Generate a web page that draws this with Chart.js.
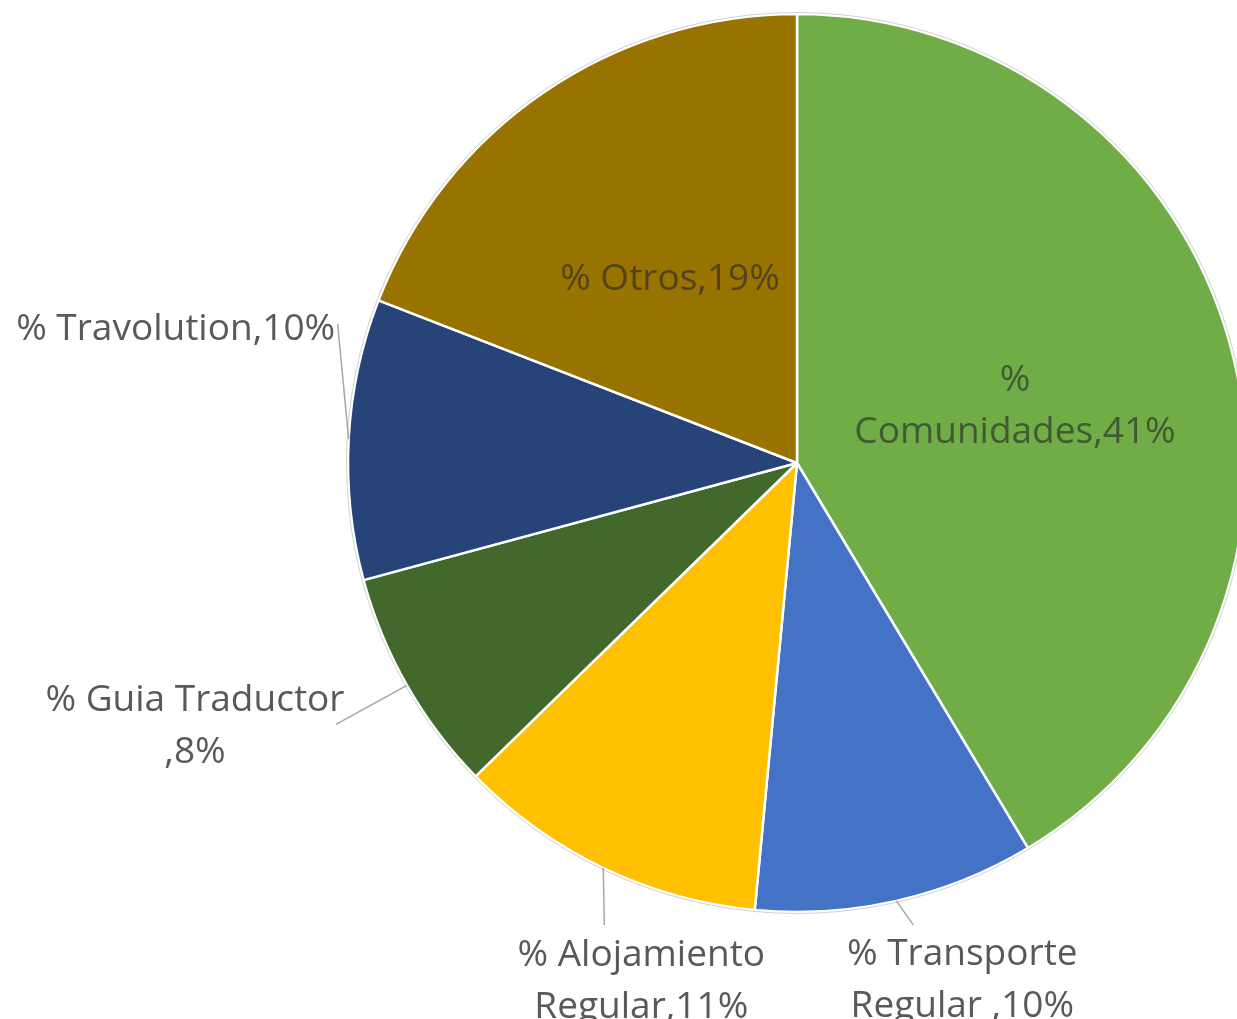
<!DOCTYPE html>
<html>
<head>
<meta charset="utf-8">
<script src="https://cdn.jsdelivr.net/npm/chart.js@4.4.1/dist/chart.umd.min.js"></script>
<style>
  html, body { margin: 0; padding: 0; background: #fff; overflow: hidden; }
  #wrap { width: 1260px; height: 1040px; }
</style>
</head>
<body>
<div id="wrap"><canvas id="pieChart" width="1260" height="1040"></canvas></div>
<script>
// ---------------- data
const categories = ['%\nComunidades', '% Transporte\nRegular ', '% Alojamiento\nRegular', '% Guia Traductor\n', '% Travolution', '% Otros'];
const shares = [41.4, 10.1, 11.2, 8.1, 10.1, 19.1];
const sliceColors = ['#70AD47', '#4472C4', '#FFC000', '#43682B', '#264478', '#997300'];

// where each label sits: inside ones relative to pie centre, outside ones relative to the slice edge
const placement = [
  { inside: true, dx: 218, dy: -83 },
  { line: [17, 24], dx: 66, dy: 54 },
  { line: [1, 57], dx: 38, dy: 87 },
  { line: [-71, 39], dx: -212, dy: 15 },
  { line: [-11, -115], dx: -173, dy: -133 + 23 },
  { inside: true, dx: -127, dy: -184 }
];

const labelFont = '37px "Open Sans"';
const lineHeight = 52;

const pieLabels = {
  id: 'pieLabels',
  afterDatasetsDraw(chart) {
    const ctx = chart.ctx;
    const meta = chart.getDatasetMeta(0);
    ctx.save();
    // faint outer rim
    const a0 = meta.data[0].getProps(['x', 'y', 'outerRadius'], true);
    ctx.beginPath();
    ctx.arc(a0.x, a0.y, a0.outerRadius + 1.5, 0, Math.PI * 2);
    ctx.strokeStyle = 'rgba(0,0,0,0.18)';
    ctx.lineWidth = 1;
    ctx.stroke();

    ctx.font = labelFont;
    ctx.textAlign = 'center';
    ctx.textBaseline = 'middle';
    meta.data.forEach((arc, i) => {
      const p = arc.getProps(['x', 'y', 'startAngle', 'endAngle', 'outerRadius'], true);
      const mid = (p.startAngle + p.endAngle) / 2;
      const ex = p.x + p.outerRadius * Math.cos(mid);
      const ey = p.y + p.outerRadius * Math.sin(mid);
      const pl = placement[i];
      const text = categories[i] + ',' + Math.round(shares[i]) + '%';
      const lines = text.split('\n');
      let bx, by;
      if (pl.inside) {
        bx = p.x + pl.dx; by = p.y + pl.dy;
        ctx.fillStyle = 'rgba(38,38,38,0.62)';
      } else {
        ctx.beginPath();
        ctx.moveTo(ex, ey);
        ctx.lineTo(ex + pl.line[0], ey + pl.line[1]);
        ctx.strokeStyle = '#a6a6a6';
        ctx.lineWidth = 1.5;
        ctx.stroke();
        bx = ex + pl.dx; by = ey + pl.dy;
        ctx.fillStyle = '#595959';
      }
      lines.forEach((ln, k) => ctx.fillText(ln, bx, by + k * lineHeight));
    });
    ctx.restore();
  }
};

document.addEventListener('DOMContentLoaded', function () {
  const ctx = document.getElementById('pieChart').getContext('2d');
  new Chart(ctx, {
    type: 'pie',
    data: {
      labels: categories.map(c => c.replace('\n', ' ').trim()),
      datasets: [{
        data: shares,
        backgroundColor: sliceColors,
        borderColor: '#ffffff',
        borderWidth: 2.5
      }]
    },
    options: {
      responsive: false,
      animation: false,
      radius: 449,
      layout: { padding: { left: 334, right: 0, top: 0, bottom: 114 } },
      plugins: {
        legend: { display: false },
        tooltip: { enabled: false }
      }
    },
    plugins: [pieLabels]
  });
});
</script>
</body>
</html>
